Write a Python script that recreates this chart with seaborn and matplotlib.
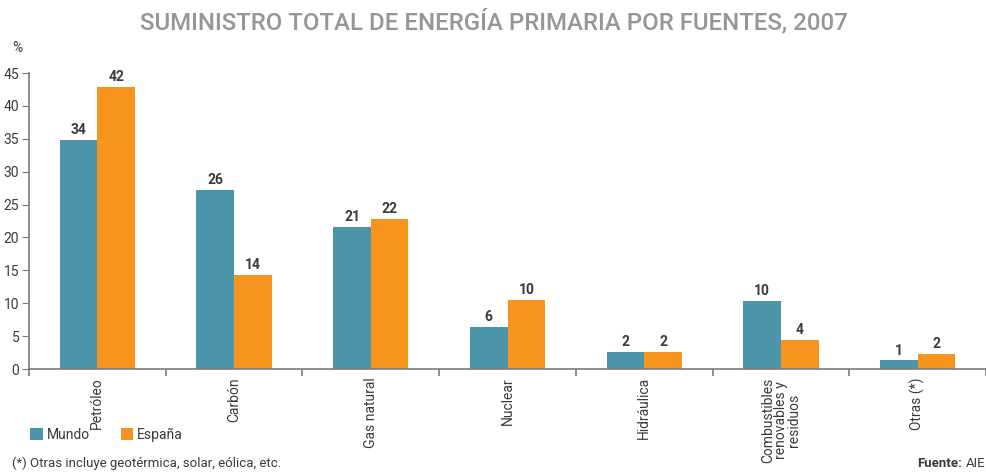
import pandas as pd
import matplotlib.pyplot as plt
import seaborn as sns

# datos
fuentes = ["Petróleo", "Carbón", "Gas natural", "Nuclear", "Hidráulica",
           "Combustibles\nrenovables y\nresiduos", "Otras (*)"]
mundo = [34.8, 27.2, 21.6, 6.4, 2.6, 10.3, 1.3]
espana = [42.9, 14.3, 22.8, 10.5, 2.6, 4.4, 2.3]
mundo_txt = ["34", "26", "21", "6", "2", "10", "1"]
espana_txt = ["42", "14", "22", "10", "2", "4", "2"]

df = pd.DataFrame({
    "fuente": fuentes * 2,
    "valor": mundo + espana,
    "serie": ["Mundo"] * len(fuentes) + ["España"] * len(fuentes),
})

sns.set_style("white")
plt.rcParams['font.family'] = ['Roboto', 'DejaVu Sans']

gris = "#7a7a7a"
texto = "#3a3a3a"

fig = plt.figure(figsize=(9.87, 4.72), dpi=100)
ax = fig.add_axes([0.0294, 0.2182, 0.9696, 0.627])

sns.barplot(data=df, x="fuente", y="valor", hue="serie",
            palette=["#4b94a9", "#f7941d"], width=0.55, ax=ax,
            saturation=1, errorbar=None, linewidth=0)

# etiquetas de valor
for cont, labs in zip(ax.containers, [mundo_txt, espana_txt]):
    ax.bar_label(cont, labels=labs, padding=2, fontsize=10,
                 fontweight="bold", color=texto)

ax.set_xlim(-0.5, len(fuentes) - 0.5)
ax.set_ylim(0, 45)
ax.set_yticks(range(0, 46, 5))
ax.set_xlabel("")
ax.set_ylabel("")

for s in ["top", "right"]:
    ax.spines[s].set_visible(False)
for s in ["left", "bottom"]:
    ax.spines[s].set_color(gris)
    ax.spines[s].set_linewidth(1.2)

ax.tick_params(axis="y", length=5, color=gris, labelsize=10,
               labelcolor=texto, left=True, pad=2)
ax.set_xticks(range(len(fuentes)))
ax.set_xticklabels(fuentes, rotation=90, fontsize=10, color=texto,
                   va="top", ha="center", multialignment="center",
                   linespacing=0.9)
ax.tick_params(axis="x", length=0, pad=6)
ax.set_xticks([i - 0.5 for i in range(len(fuentes) + 1)], minor=True)
ax.tick_params(axis="x", which="minor", length=5, color=gris,
               bottom=True, direction="out", width=1.2)

# leyenda abajo
handles, labels = ax.get_legend_handles_labels()
ax.get_legend().remove()
fig.legend(handles, labels, loc="center left",
           bbox_to_anchor=(0.018, 0.079), ncol=2, frameon=False,
           fontsize=10, handlelength=0.9, handleheight=0.9,
           handletextpad=0.3, columnspacing=2.2, labelcolor=texto)

fig.text(0.5, 0.955, "SUMINISTRO TOTAL DE ENERGÍA PRIMARIA POR FUENTES, 2007",
         ha="center", va="center", fontsize=17.3, color="#969696",
         fontweight="medium")
fig.text(0.012, 0.898, "%", ha="left", va="center", fontsize=10, color=texto)
fig.text(0.012, 0.019, "(*) Otras incluye geotérmica, solar, eólica, etc.",
         ha="left", va="center", fontsize=9.5, color=texto)
fig.text(0.998, 0.019, "AIE", ha="right", va="center", fontsize=9.5,
         color=texto)
fig.text(0.9745, 0.019, "Fuente:", ha="right", va="center", fontsize=9.5,
         color=texto, fontweight="bold")

fig.savefig("out.png", dpi=100)
